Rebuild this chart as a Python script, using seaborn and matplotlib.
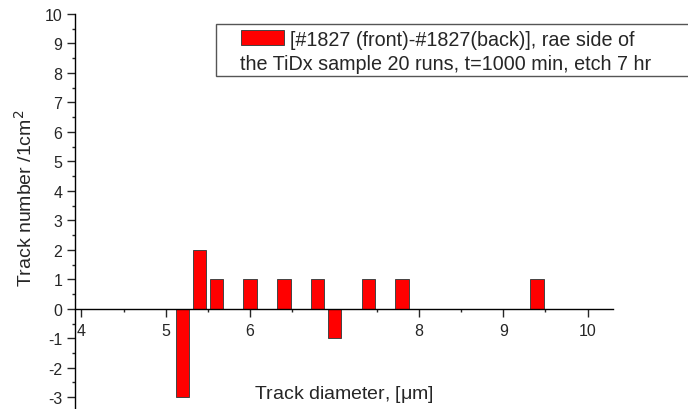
import numpy as np
import pandas as pd
import matplotlib
matplotlib.use('Agg')
import matplotlib.pyplot as plt
import matplotlib.patches as mpatches
from matplotlib.ticker import MultipleLocator
import seaborn as sns

# values
diameters = [5.2, 5.4, 5.6, 6.0, 6.4, 6.8, 7.0, 7.4, 7.8, 9.4]
counts = [-3, 2, 1, 1, 1, 1, -1, 1, 1, 1]
legend_line1 = '[#1827 (front)-#1827(back)], rae side of'
legend_line2 = 'the TiDx sample 20 runs, t=1000 min, etch 7 hr'

sns.set_style('ticks')
plt.rcParams['font.family'] = ['Liberation Sans', 'DejaVu Sans']
plt.rcParams['axes.unicode_minus'] = False

df = pd.DataFrame({'d': diameters, 'n': counts})

fig = plt.figure(figsize=(6.88, 4.10), dpi=100)
ax = fig.add_axes([75 / 688, 0.0, (613 - 75) / 688, (410 - 15) / 410])

sns.barplot(data=df, x='d', y='n', native_scale=True, width=0.8,
            color='red', saturation=1, edgecolor='#444444', linewidth=0.7,
            ax=ax)

ax.set_xlim(3.925, 10.30)
ax.set_ylim(-3.4, 10)

# axis styling
ax.spines['top'].set_visible(False)
ax.spines['right'].set_visible(False)
ax.spines['bottom'].set_position(('data', 0))
for s in ['left', 'bottom']:
    ax.spines[s].set_linewidth(1.0)
    ax.spines[s].set_color('black')

ax.xaxis.set_major_locator(MultipleLocator(1))
ax.xaxis.set_minor_locator(MultipleLocator(0.5))
ax.yaxis.set_major_locator(MultipleLocator(1))
ax.yaxis.set_minor_locator(MultipleLocator(0.5))
ax.tick_params(which='major', direction='out', length=6, width=1, labelsize=11.5, pad=3)
ax.tick_params(which='minor', direction='out', length=2.5, width=1)
ax.tick_params(axis='x', which='major', pad=4)

ax.set_xlabel('Track diameter, [$\\mathregular{\\mu}$m]', fontsize=14)
ax.xaxis.set_label_coords(0.5, 0.065)
ax.xaxis.label.set_va('top')
ax.set_ylabel('Track number /1cm$^{2}$', fontsize=14)
ax.yaxis.set_label_coords(-0.093, 0.537)
ax.yaxis.label.set_va('center')

# legend frame + entries
frame = mpatches.Rectangle((216 / 688, 1 - 77 / 410), (720 - 216) / 688, 52 / 410,
                           transform=fig.transFigure, facecolor='white',
                           edgecolor='#555555', linewidth=1.0, zorder=5)
fig.patches.append(frame)

handle = mpatches.Patch(facecolor='red', edgecolor='#444444', linewidth=0.7)
leg = fig.legend([handle], [legend_line1], loc='center left',
                 bbox_to_anchor=(231 / 688, 1 - 40 / 410),
                 frameon=False, fontsize=14.2, borderpad=0,
                 handlelength=2.18, handleheight=0.76, handletextpad=0.3)
leg.set_zorder(6)
fig.text(240 / 688, 1 - 65 / 410, legend_line2, fontsize=14.2,
         ha='left', va='center', zorder=6)

fig.savefig('out.png', dpi=100)
